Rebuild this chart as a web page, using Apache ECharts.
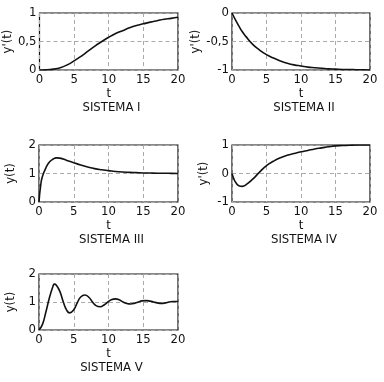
<!DOCTYPE html>
<html><head><meta charset="utf-8">
<script src="https://cdn.jsdelivr.net/npm/echarts@6/dist/echarts.min.js"></script>
<style>html,body{margin:0;padding:0;background:#fff}#c{width:384px;height:382px}</style>
</head><body><div id="c"></div>
<script>
var titles = ['SISTEMA I','SISTEMA II','SISTEMA III','SISTEMA IV','SISTEMA V'];
var yNames = ["y'(t)","y'(t)","y(t)","y'(t)","y(t)"];
var yMin = [0,-1,0,-1,0];
var yMax = [1,0,2,1,2];
var yStep = [0.5,0.5,1,1,1];

var tI = [0,1,2,3,4,5,6,7,8,9,10,11,12,13,14,15,16,17,18,19,20];
var yI = [0,0.003,0.015,0.04,0.09,0.16,0.24,0.33,0.42,0.50,0.575,0.64,0.69,0.74,0.78,0.81,0.84,0.865,0.89,0.905,0.925];

var tII = [0,0.5,1,1.5,2,3,4,5,6,7,8,9,10,11,12,13,14,15,16,17,18,19,20];
var yII = [0,-0.12,-0.23,-0.33,-0.41,-0.55,-0.65,-0.73,-0.79,-0.84,-0.88,-0.91,-0.93,-0.95,-0.96,-0.97,-0.98,-0.985,-0.99,-0.99,-0.995,-0.995,-1.0];

var tIII = [0,0.25,0.5,1,1.5,2,2.5,3,4,5,6,7,8,9,10,11,12,13,14,15,16,17,18,19,20];
var yIII = [0,0.6,0.9,1.2,1.4,1.5,1.55,1.54,1.46,1.38,1.30,1.23,1.17,1.13,1.10,1.07,1.05,1.04,1.03,1.02,1.015,1.01,1.01,1.005,1.0];

var tIV = [0,0.25,0.5,1,1.5,2,3,4,5,6,7,8,9,10,11,12,13,14,15,16,17,18,19,20];
var yIV = [0,-0.18,-0.3,-0.43,-0.45,-0.40,-0.2,0.05,0.28,0.43,0.55,0.64,0.70,0.76,0.81,0.86,0.90,0.94,0.97,0.98,0.99,1.0,1.0,1.0];

var tV = [0,0.5,1,1.5,2,2.2,2.5,3,3.5,4,4.4,5,5.5,6,6.6,7.2,7.7,8.2,8.8,9.4,9.9,10.4,11,11.6,12.1,12.6,13.2,13.8,14.3,14.8,15.4,16,16.5,17,17.6,18.2,18.7,19.3,20];
var yV = [0,0.2,0.65,1.15,1.55,1.64,1.6,1.38,1.0,0.7,0.61,0.72,0.97,1.18,1.25,1.16,1.0,0.87,0.83,0.9,1.0,1.08,1.11,1.07,1.0,0.95,0.93,0.96,1.0,1.04,1.05,1.03,1.0,0.97,0.95,0.97,1.0,1.02,1.02];

var tList = [tI,tII,tIII,tIV,tV];
var yList = [yI,yII,yIII,yIV,yV];

var grids = [
  {left:39, top:13, width:139, height:57},
  {left:232, top:13, width:138, height:57},
  {left:39, top:145, width:139, height:57},
  {left:232, top:145, width:138, height:57},
  {left:39, top:274, width:139, height:56}
];
var FONT = '"DejaVu Sans Condensed","Liberation Sans",Arial,sans-serif';
function fmt(v){ return String(v).replace('.', ','); }

var option = {
  animation:false,
  backgroundColor:'#fff',
  title: grids.map(function(g,i){
    return {text:titles[i], left:g.left+g.width/2 - 2, top:g.top+g.height+26, textAlign:'center',
      textStyle:{fontFamily:FONT, fontSize:13, fontWeight:'normal', color:'#111'}};
  }),
  grid: grids.map(function(g){ return Object.assign({show:true, borderColor:'#111', borderWidth:1.2, backgroundColor:'transparent'}, g); }),
  xAxis: grids.map(function(g,i){
    return {type:'value', gridIndex:i, min:0, max:20, interval:5,
      name:'t', nameLocation:'middle', nameGap:12,
      nameTextStyle:{fontFamily:FONT, fontSize:13, color:'#111'},
      axisLine:{show:false}, axisTick:{show:false},
      axisLabel:{fontFamily:FONT, fontSize:13, color:'#111', margin:3},
      splitLine:{show:true, lineStyle:{color:'#aaa', type:[4,3], width:1}}};
  }),
  yAxis: grids.map(function(g,i){
    return {type:'value', gridIndex:i, min:yMin[i], max:yMax[i], interval:yStep[i],
      name:yNames[i], nameLocation:'middle', nameGap:22, nameRotate:90,
      nameTextStyle:{fontFamily:FONT, fontSize:13, color:'#111'},
      axisLine:{show:false}, axisTick:{show:false},
      axisLabel:{fontFamily:FONT, fontSize:13, color:'#111', margin:3, formatter:fmt},
      splitLine:{show:true, lineStyle:{color:'#aaa', type:[4,3], width:1}}};
  }),
  series: tList.map(function(ts,i){
    return {type:'line', xAxisIndex:i, yAxisIndex:i, smooth:true, symbol:'none',
      lineStyle:{color:'#111', width:1.6},
      data: ts.map(function(t,k){ return [t, yList[i][k]]; })};
  })
};
echarts.init(document.getElementById('c')).setOption(option);
</script></body></html>
